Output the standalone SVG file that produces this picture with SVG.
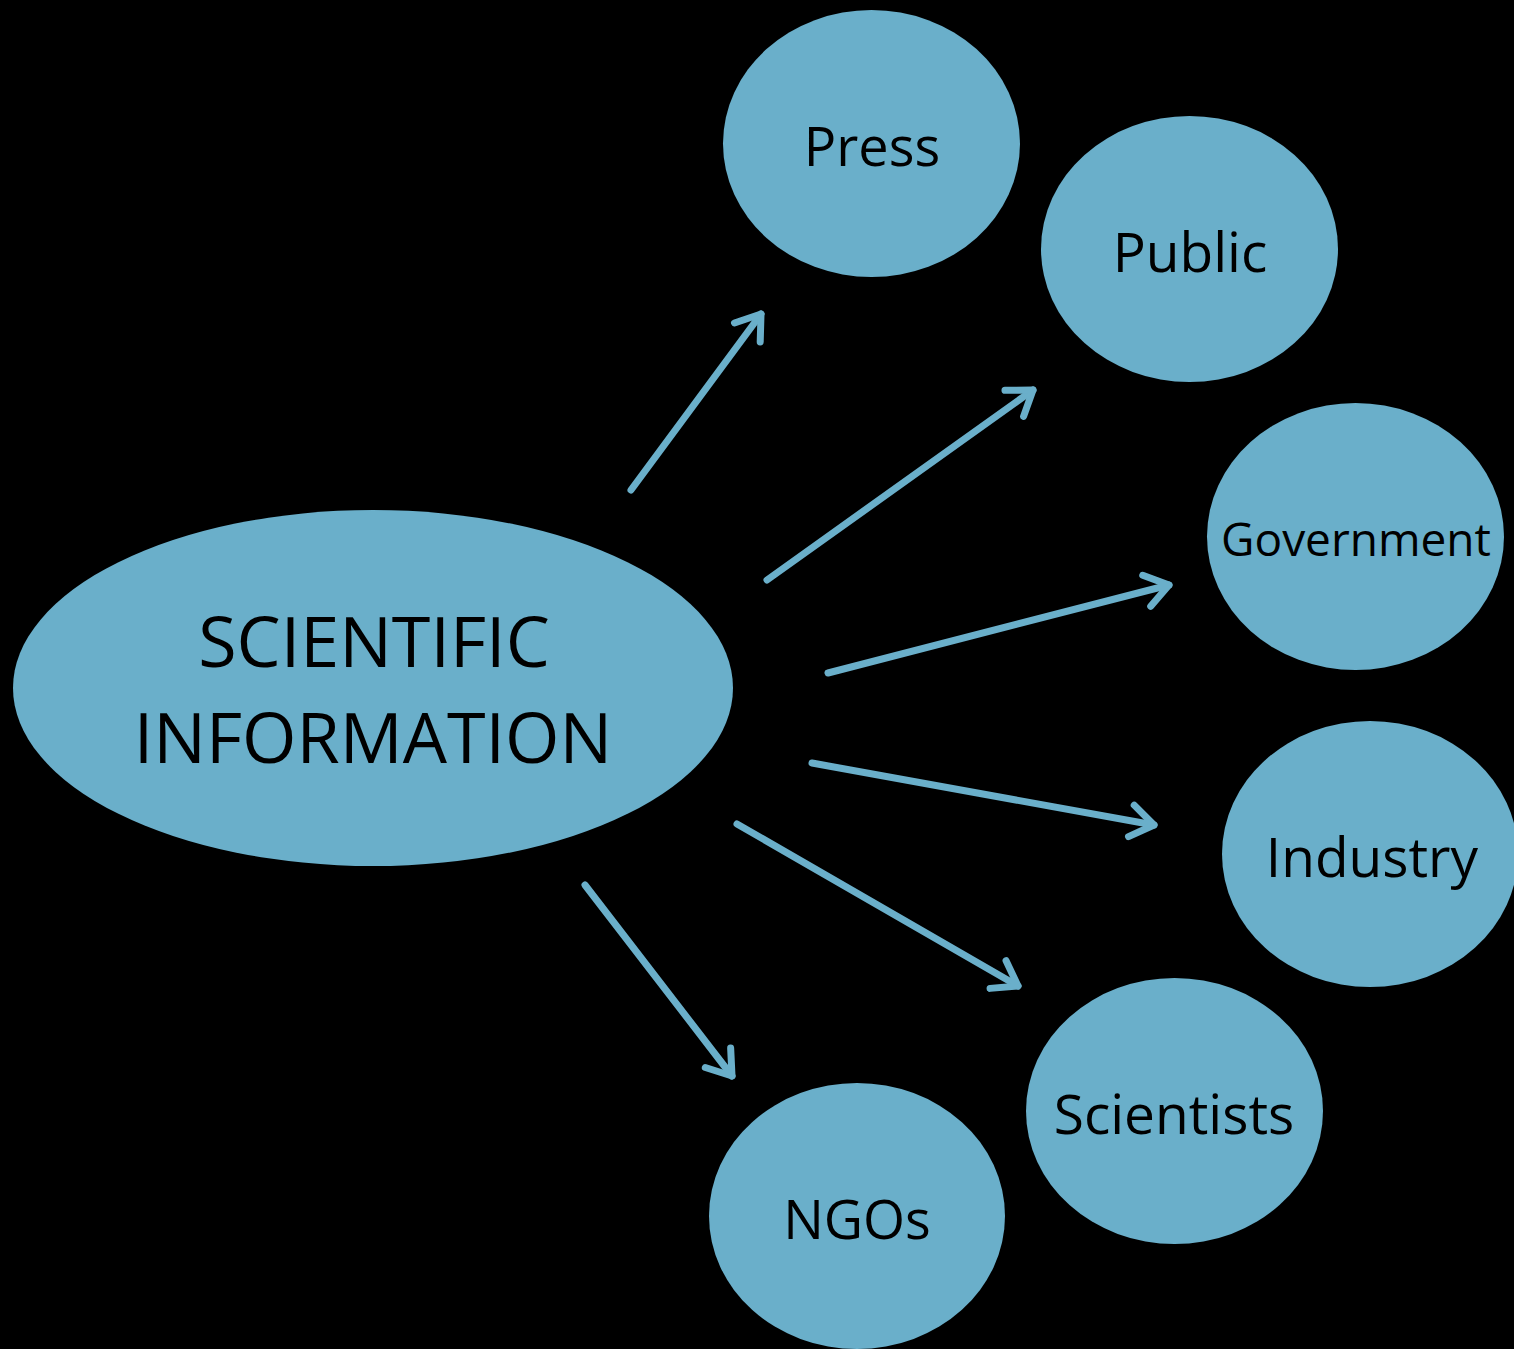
<svg xmlns="http://www.w3.org/2000/svg" width="1514" height="1349" viewBox="0 0 1514 1349">
<defs>
<style>
.n{fill:#6aafca}
.t{font-family:"Open Sans","DejaVu Sans",sans-serif;fill:#000;text-anchor:middle}
.c{fill:none;stroke:#6aafca;stroke-width:7;stroke-linecap:round;stroke-linejoin:round}
</style>
<marker id="ah" markerUnits="userSpaceOnUse" markerWidth="40" markerHeight="40" refX="30" refY="20" orient="auto" viewBox="0 0 40 40">
<path d="M7,4 L30,20 L7,36" fill="none" stroke="#6aafca" stroke-width="7" stroke-linecap="round" stroke-linejoin="round"/>
</marker>
</defs>
<rect width="1514" height="1349" fill="#000"/>
<g id="connectors">
<line class="c" x1="631" y1="490" x2="761" y2="314" marker-end="url(#ah)"/>
<line class="c" x1="767" y1="580" x2="1033" y2="390" marker-end="url(#ah)"/>
<line class="c" x1="828" y1="673" x2="1169" y2="585" marker-end="url(#ah)"/>
<line class="c" x1="812" y1="763" x2="1154" y2="825" marker-end="url(#ah)"/>
<line class="c" x1="737" y1="824" x2="1018" y2="986" marker-end="url(#ah)"/>
<line class="c" x1="585" y1="885" x2="732" y2="1076" marker-end="url(#ah)"/>
</g>
<g id="scientific-information">
<ellipse class="n" cx="373" cy="688" rx="360" ry="178"/>
<text class="t" x="374" y="667" font-size="70">SCIENTIFIC</text>
<text class="t" x="373" y="763" font-size="70">INFORMATION</text>
</g>
<g id="press">
<ellipse class="n" cx="871.5" cy="143.5" rx="148.5" ry="133.5"/>
<text class="t" x="872" y="166" font-size="54">Press</text>
</g>
<g id="public">
<ellipse class="n" cx="1189.5" cy="249" rx="148.5" ry="133"/>
<text class="t" x="1190" y="272" font-size="55">Public</text>
</g>
<g id="government">
<ellipse class="n" cx="1355.5" cy="536.5" rx="148.5" ry="133.5"/>
<text class="t" x="1356" y="556" font-size="46">Government</text>
</g>
<g id="industry">
<ellipse class="n" cx="1370" cy="854" rx="148" ry="133"/>
<text class="t" x="1372" y="877" font-size="55">Industry</text>
</g>
<g id="scientists">
<ellipse class="n" cx="1174.5" cy="1111" rx="148.5" ry="133"/>
<text class="t" x="1174" y="1134" font-size="55">Scientists</text>
</g>
<g id="ngos">
<ellipse class="n" cx="857" cy="1216" rx="148" ry="133"/>
<text class="t" x="857" y="1239" font-size="54">NGOs</text>
</g>
</svg>
